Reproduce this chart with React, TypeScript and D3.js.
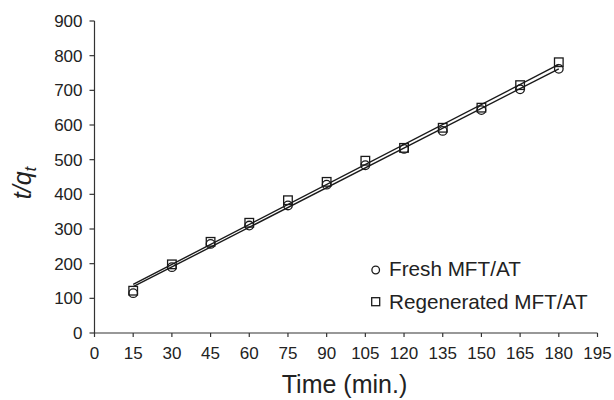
import React from 'react';
import * as d3 from 'd3';

const times = [15, 30, 45, 60, 75, 90, 105, 120, 135, 150, 165, 180];
const freshValues = [115, 190, 257, 310, 368, 428, 484, 531, 583, 643, 703, 762];
const regenValues = [122, 198, 263, 318, 383, 436, 497, 534, 592, 650, 715, 781];
const xTicks = [0, 15, 30, 45, 60, 75, 90, 105, 120, 135, 150, 165, 180, 195];
const yTicks = [0, 100, 200, 300, 400, 500, 600, 700, 800, 900];
const legendLabels = ['Fresh MFT/AT', 'Regenerated MFT/AT'];

const W = 614;
const H = 400;
const margin = { top: 21, right: 16.5, bottom: 67, left: 94.5 };
const font = 'Liberation Sans, Arial, Helvetica, sans-serif';
const ink = '#222';

// least-squares line through a series
function fit(xs: number[], ys: number[]) {
  const mx = d3.mean(xs) as number;
  const my = d3.mean(ys) as number;
  let num = 0;
  let den = 0;
  xs.forEach((x, i) => {
    num += (x - mx) * (ys[i] - my);
    den += (x - mx) * (x - mx);
  });
  const slope = num / den;
  return (x: number) => my + slope * (x - mx);
}

export default function App() {
  const x = d3.scaleLinear().domain([0, 195]).range([margin.left, W - margin.right]);
  const y = d3.scaleLinear().domain([0, 900]).range([H - margin.bottom, margin.top]);
  const y0 = y(0);

  const xEnds = [times[0], times[times.length - 1]];
  const line = d3.line<number[]>().x((d) => x(d[0])).y((d) => y(d[1]));
  const fFresh = fit(times, freshValues);
  const fRegen = fit(times, regenValues);

  return (
    <svg width={W} height={H} style={{ position: 'absolute', left: 0, top: 0 }} fontFamily={font}>
      <rect width={W} height={H} fill="#fff" />

      {/* axes */}
      <line x1={x(0)} x2={x(0)} y1={y(900)} y2={y0} stroke="#333" strokeWidth={1.2} />
      <line x1={x(0)} x2={x(195)} y1={y0} y2={y0} stroke="#333" strokeWidth={1.2} />
      {yTicks.map((t) => (
        <g key={'y' + t}>
          <line x1={x(0) - 5} x2={x(0)} y1={y(t)} y2={y(t)} stroke="#333" strokeWidth={1.2} />
          <text x={x(0) - 12} y={y(t)} dy="0.35em" textAnchor="end" fontSize={17} fill={ink}>
            {t}
          </text>
        </g>
      ))}
      {xTicks.map((t) => (
        <g key={'x' + t}>
          <line x1={x(t)} x2={x(t)} y1={y0} y2={y0 + 4} stroke="#333" strokeWidth={1.2} />
          <text x={x(t)} y={359} textAnchor="middle" fontSize={17} fill={ink}>
            {t}
          </text>
        </g>
      ))}

      {/* fitted lines */}
      <path d={line(xEnds.map((t) => [t, fFresh(t)])) as string} fill="none" stroke="#1a1a1a" strokeWidth={1.4} />
      <path d={line(xEnds.map((t) => [t, fRegen(t)])) as string} fill="none" stroke="#1a1a1a" strokeWidth={1.4} />

      {/* markers */}
      {times.map((t, i) => (
        <circle key={'c' + t} cx={x(t)} cy={y(freshValues[i])} r={4.3} fill="none" stroke="#1a1a1a" strokeWidth={1.3} />
      ))}
      {times.map((t, i) => (
        <rect key={'s' + t} x={x(t) - 4.3} y={y(regenValues[i]) - 4.3} width={8.6} height={8.6} fill="none" stroke="#1a1a1a" strokeWidth={1.3} />
      ))}

      {/* legend */}
      <circle cx={375.7} cy={270} r={3.8} fill="none" stroke="#1a1a1a" strokeWidth={1.3} />
      <text x={389} y={275.5} fontSize={20.7} fill={ink}>{legendLabels[0]}</text>
      <rect x={371.7} y={297.7} width={8} height={8} fill="none" stroke="#1a1a1a" strokeWidth={1.3} />
      <text x={389} y={308.5} fontSize={20.7} fill={ink}>{legendLabels[1]}</text>

      {/* axis titles */}
      <text x={344.5} y={393} textAnchor="middle" fontSize={25} fill={ink}>Time (min.)</text>
      <text transform="translate(31,183) rotate(-90)" textAnchor="middle" fontSize={25} fontStyle="italic" fill={ink}>
        t/q<tspan fontSize={17} dy={5}>t</tspan>
      </text>
    </svg>
  );
}
